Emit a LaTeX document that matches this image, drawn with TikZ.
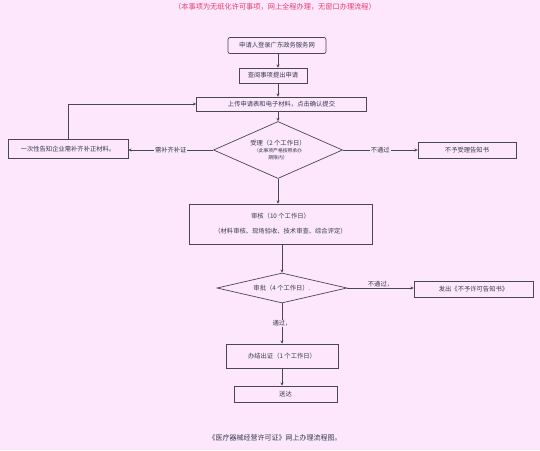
\documentclass[tikz,border=0pt]{standalone}
\usepackage{fontspec}
\setmainfont{Noto Sans CJK SC}
\usetikzlibrary{arrows.meta,shapes.geometric}
\definecolor{bgpink}{RGB}{252,231,252}
\definecolor{linegray}{RGB}{72,72,78}
\definecolor{txtgray}{RGB}{55,58,78}
\definecolor{titlered}{RGB}{232,58,108}
\newcommand{\boxfont}{\fontsize{6.3}{8}\selectfont}
\newcommand{\tinyfont}{\fontsize{4.8}{6}\selectfont}

\begin{document}
\begin{tikzpicture}[x=1pt,y=-1pt,task/.style={draw=linegray,rectangle,inner sep=0pt,text=txtgray,font=\boxfont,line width=0.7pt},check/.style={draw=linegray,diamond,inner sep=0pt,text=txtgray,font=\boxfont,align=center,line width=0.7pt},lbl/.style={fill=bgpink,inner sep=0.8pt,text=txtgray,font=\boxfont},every edge/.style={draw=linegray,line width=0.7pt,-{Stealth[length=3.2pt,width=3pt]}}]
\fill[bgpink] (0,0) rectangle (540,450);
\useasboundingbox (0,0) rectangle (540,450);
\node[text=titlered,font=\fontsize{7.2}{9}\selectfont] (title) at (275,7) {（本事项为无纸化许可事项，网上全程办理，无窗口办理流程）};
\node[task,rounded corners=2pt,minimum width=98pt,minimum height=16pt] (apply) at (277,45.5) {申请人登录广东政务服务网};
\node[task,minimum width=68pt,minimum height=15pt] (query) at (273,75.5) {查阅事项提出申请};
\node[task,minimum width=170pt,minimum height=14pt] (upload) at (281.5,104) {上传申请表和电子材料，点击确认提交};
\node[check,aspect=2.26,minimum width=129pt,minimum height=57pt] (accept) at (278,150) {受理（2 个工作日）\\[-0.5pt]{\tinyfont（此事项严格按照承办}\\[-1pt]{\tinyfont 期限内）}};
\node[task,minimum width=120pt,minimum height=19pt] (notice) at (68,149) {一次性告知企业需补齐补正材料。};
\node[task,minimum width=98pt,minimum height=16pt] (rejecta) at (467,150) {不予受理告知书};
\node[task,minimum width=183pt,minimum height=40pt,align=center] (review) at (280.5,224) {审核（10 个工作日）\\[7pt]（材料审核、现场验收、技术审查、综合评定）};
\node[check,aspect=4.33,minimum width=130pt,minimum height=30pt] (approve) at (282,288) {审批（4 个工作日）.};
\node[task,minimum width=119pt,minimum height=16pt] (rejectb) at (473.5,289) {发出《不予许可告知书》};
\node[task,minimum width=112pt,minimum height=24pt] (issue) at (282,356) {办结出证（1 个工作日）};
\node[task,minimum width=103pt,minimum height=16pt] (deliver) at (285.5,394) {送达};
\node[text=txtgray,font=\fontsize{7}{9}\selectfont] (caption) at (275,438) {《医疗器械经营许可证》网上办理流程图。};
\path (278,0 |- apply.south) edge (278,0 |- query.north);
\path (278,0 |- query.south) edge (278,0 |- upload.north);
\path (278,0 |- upload.south) edge (accept.north);
\path (accept.east) edge node[lbl] {不通过} (accept.east -| rejecta.west);
\path (accept.west) edge node[lbl] {需补齐补证} (accept.west -| notice.east);
\draw[linegray,line width=0.7pt,-{Stealth[length=3.2pt,width=3pt]}] (notice.north) |- (upload.west);
\path (accept.south) edge (accept.south |- review.north);
\path (282,0 |- review.south) edge (approve.north);
\path (approve.east) edge node[lbl,fill=none,above=-0.5pt] {不通过，} (approve.east -| rejectb.west);
\path (approve.south) edge node[lbl] {通过，} (approve.south |- issue.north);
\path (issue.south) edge (issue.south |- deliver.north);
\end{tikzpicture}
\end{document}
